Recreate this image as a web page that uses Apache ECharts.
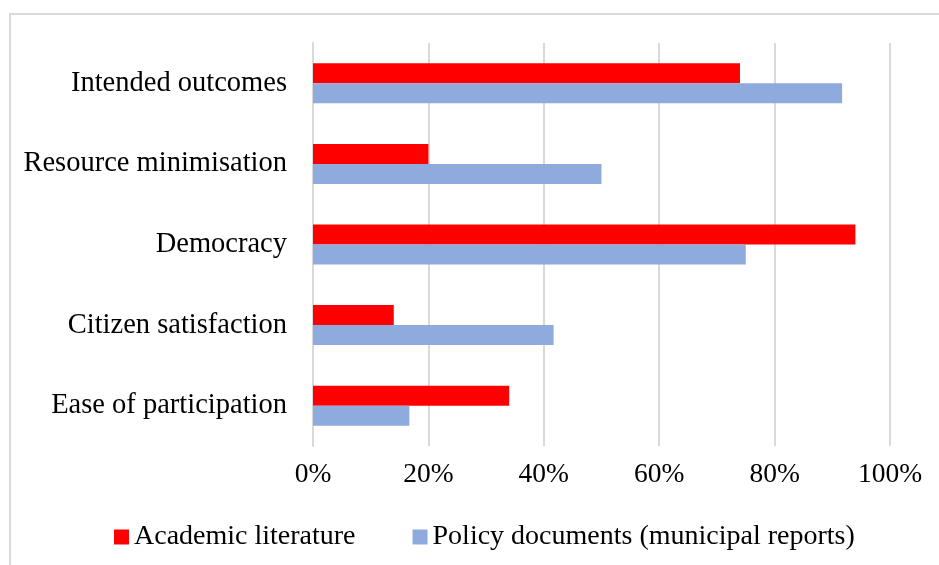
<!DOCTYPE html>
<html>
<head>
<meta charset="utf-8">
<script src="https://cdn.jsdelivr.net/npm/echarts@6/dist/echarts.min.js"></script>
<style>
html,body{margin:0;padding:0;background:#fff;}
#frame{position:absolute;left:9px;top:13px;width:940px;height:560px;border-left:2px solid #d9d9d9;border-top:2px solid #d9d9d9;}
#chart{position:absolute;left:0;top:0;width:939px;height:565px;}
</style>
</head>
<body>
<div id="frame"></div>
<div id="chart"></div>
<script>
var categories = ["Intended outcomes", "Resource minimisation", "Democracy", "Citizen satisfaction", "Ease of participation"];
var academic = [74, 20, 94, 14, 34];
var policy = [91.7, 50, 75, 41.7, 16.7];
var seriesNames = ["Academic literature", "Policy documents (municipal reports)"];
var xTicks = [0, 20, 40, 60, 80, 100];

var font = "'Liberation Serif', 'DejaVu Serif', serif";
var chart = echarts.init(document.getElementById('chart'), null, {renderer: 'canvas'});
chart.setOption({
  animation: false,
  textStyle: {fontFamily: font},
  grid: {left: 313, right: 49, top: 43, bottom: 119, containLabel: false},
  legend: {
    left: 109, top: 518,
    itemWidth: 15, itemHeight: 15, itemGap: 57,
    icon: 'rect',
    textStyle: {fontFamily: font, fontSize: 28, color: '#000'},
    data: seriesNames
  },
  xAxis: {
    type: 'value', min: 0, max: 100, interval: 20,
    axisLine: {show: false}, axisTick: {show: false},
    splitLine: {show: true, lineStyle: {color: '#d9d9d9', width: 2}},
    axisLabel: {fontFamily: font, fontSize: 27.5, color: '#000', margin: 15,
      formatter: function(v){ return xTicks.indexOf(v) >= 0 ? v + '%' : ''; }}
  },
  yAxis: {
    type: 'category', data: categories, inverse: true,
    axisLine: {show: true, lineStyle: {color: '#d9d9d9', width: 2}},
    axisTick: {show: false},
    axisLabel: {fontFamily: font, fontSize: 28.5, color: '#000', margin: 26}
  },
  series: [
    {name: seriesNames[0], type: 'bar', data: academic, itemStyle: {color: '#ff0000'},
     barWidth: 20, barGap: '0%'},
    {name: seriesNames[1], type: 'bar', data: policy, itemStyle: {color: '#8faadc'},
     barWidth: 20, barGap: '0%'}
  ]
});
</script>
</body>
</html>
